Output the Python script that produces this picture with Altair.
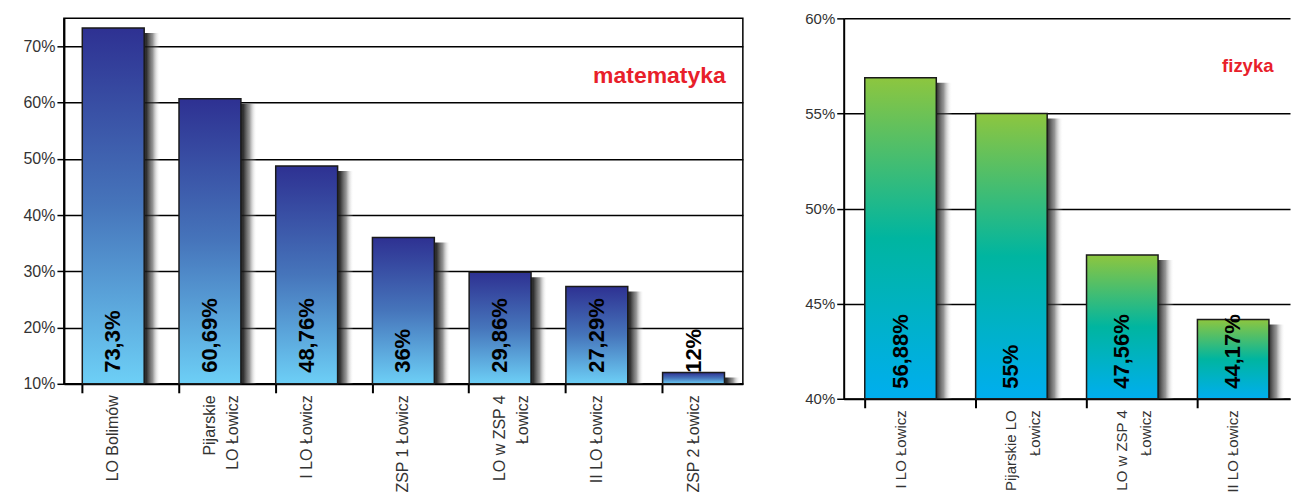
import altair as alt
import pandas as pd

# ---------------- data ----------------
math_schools = ["LO Bolimów", "Pijarskie|LO Łowicz", "I LO Łowicz", "ZSP 1 Łowicz",
                "LO w ZSP 4|Łowicz", "II LO Łowicz", "ZSP 2 Łowicz"]
math_values = [73.3, 60.69, 48.76, 36, 29.86, 27.29, 12]
math_labels = ["73,3%", "60,69%", "48,76%", "36%", "29,86%", "27,29%", "12%"]
math_ticks = [10, 20, 30, 40, 50, 60, 70]
math_domain = [10, 75]

phys_schools = ["I LO Łowicz", "Pijarskie LO|Łowicz", "LO w ZSP 4|Łowicz", "II LO Łowicz"]
phys_values = [56.88, 55, 47.56, 44.17]
phys_labels = ["56,88%", "55%", "47,56%", "44,17%"]
phys_ticks = [40, 45, 50, 55, 60]
phys_domain = [40, 60]

FONT = "Liberation Sans"


def grad(stops, horizontal=False):
    return alt.Gradient(
        gradient="linear",
        stops=[alt.GradientStop(color=c, offset=o) for o, c in stops],
        x1=0, y1=0, x2=1 if horizontal else 0, y2=0 if horizontal else 1,
    )


shadow_grad = grad([(0, "rgba(25,25,25,0.95)"), (0.78, "rgba(25,25,25,0.9)"),
                    (0.88, "rgba(80,80,80,0.6)"),
                    (1, "rgba(255,255,255,0)")], horizontal=True)


def panel(schools, values, labels, ticks, domain, width, height, stops,
          title, title_x, title_y, title_size, line_h, xlab_size, ylab_size,
          pad_inner, pad_outer, text_dx, view_stroke):
    df = pd.DataFrame({"school": schools, "value": values, "label": labels})
    base = alt.Chart(df)
    x = alt.X("school:N", sort=None,
              scale=alt.Scale(paddingInner=pad_inner, paddingOuter=pad_outer),
              axis=alt.Axis(title=None, labelAngle=270, labelAlign="right",
                            labelBaseline="middle",
                            labelExpr="split(datum.label, '|')",
                            labelFontSize=xlab_size, labelColor="#333",
                            labelFont=FONT, labelLineHeight=line_h,
                            bandPosition=0, tickSize=9, tickColor="black",
                            tickWidth=2, domainColor="black", domainWidth=2,
                            labelPadding=2, grid=False))
    y = alt.Y("value:Q",
              scale=alt.Scale(domain=domain, zero=False, nice=False),
              axis=alt.Axis(title=None, values=ticks,
                            labelExpr="datum.value + '%'", grid=True,
                            gridColor="black", gridWidth=1.5, tickSize=7,
                            tickColor="black", tickWidth=1.5,
                            domainColor="black", domainWidth=2,
                            labelFontSize=ylab_size, labelColor="#333",
                            labelFont=FONT, labelPadding=2))
    shadow = base.mark_bar(xOffset=16, yOffset=5, color=shadow_grad).encode(
        x=x, y=y, y2=alt.datum(domain[0]))
    bars = base.mark_bar(color=grad(stops), stroke="#1a1a1a",
                         strokeWidth=1.5).encode(
        x=x, y=y, y2=alt.datum(domain[0]))
    text = base.mark_text(angle=270, align="left", baseline="middle",
                          dx=text_dx, font=FONT, fontSize=22,
                          fontWeight="bold", color="black").encode(
        x=x, y=alt.datum(domain[0]), text="label:N")
    ttl = alt.Chart(pd.DataFrame({"t": [title]})).mark_text(
        align="left", baseline="middle", font=FONT, fontSize=title_size,
        fontWeight="bold", color="#e8202a").encode(
        text="t:N", x=alt.value(title_x), y=alt.value(title_y))
    return alt.layer(shadow, bars, text, ttl).properties(
        width=width, height=height,
        view=alt.ViewBackground(stroke=view_stroke, strokeWidth=1.5))


left = panel(math_schools, math_values, math_labels, math_ticks, math_domain,
             680, 366,
             [(0, "#2e3192"), (0.5, "#4675bb"), (1, "#6dcff6")],
             "matematyka", 530, 58, 23, 23, 16, 16, 0.36, 0.19, 11, "black")
right = panel(phys_schools, phys_values, phys_labels, phys_ticks, phys_domain,
              447, 381,
              [(0, "#8dc63f"), (0.5, "#00b5a0"), (1, "#00aeef")],
              "fizyka", 379, 48, 18.5, 24, 15, 15, 0.355, 0.19, 10,
              "transparent")

chart = alt.hconcat(left, right, spacing=60).properties(
    padding={"left": 14, "top": 2, "right": 0, "bottom": 0},
    background="white",
).configure(font=FONT)

chart.save("out.html", embed_options={"renderer": "svg", "actions": False})
